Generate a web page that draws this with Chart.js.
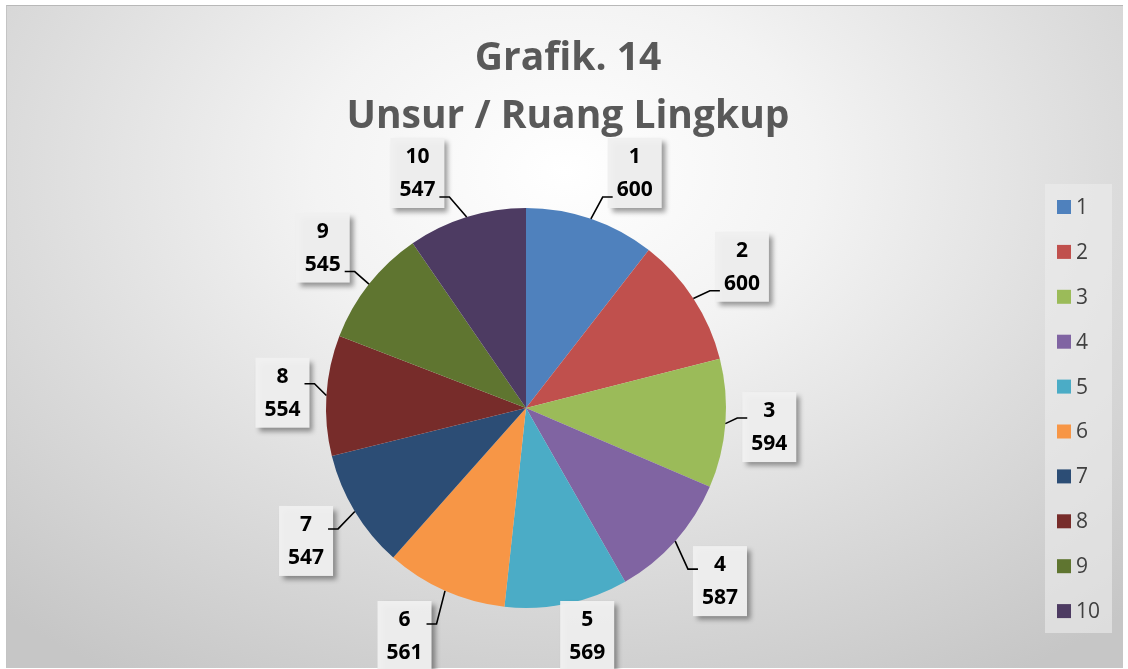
<!DOCTYPE html>
<html>
<head>
<meta charset="utf-8">
<script src="https://cdn.jsdelivr.net/npm/chart.js@4"></script>
<style>
  html, body { margin: 0; padding: 0; background: #fff; }
  #frame {
    position: absolute; left: 6px; top: 5px; width: 1116px; height: 662px;
    border-top: 1px solid #b8b8b8; border-left: 1px solid #c4c4c4;
    background: radial-gradient(ellipse 75% 90% at 50% 25%, #ffffff 0%, #f3f3f3 30%, #dcdcdc 65%, #c6c6c6 100%);
  }
  #c { position: absolute; left: 0; top: 0; }
</style>
</head>
<body>
<div id="frame"></div>
<canvas id="c" width="1128" height="669"></canvas>
<script>
// data
var titleLines = ['Grafik. 14', 'Unsur / Ruang Lingkup'];
var categories = ['1', '2', '3', '4', '5', '6', '7', '8', '9', '10'];
var values = [600, 600, 594, 587, 569, 561, 547, 554, 545, 547];
var colors = ['#4F81BD', '#C0504D', '#9BBB59', '#8064A2', '#4BACC6',
              '#F79646', '#2C4D75', '#772C2A', '#5F7530', '#4D3B62'];

var FONT = '"Open Sans", "Liberation Sans", sans-serif';

// title, labels with boxes + leader lines, and the legend on the right
var labelPlugin = {
  id: 'pieLabels',
  afterDraw: function (chart) {
    var ctx = chart.ctx;
    var meta = chart.getDatasetMeta(0);
    ctx.save();

    // title (centred on the whole picture, not on the pie)
    ctx.fillStyle = '#595959';
    ctx.font = 'bold 39px ' + FONT;
    ctx.textAlign = 'center';
    ctx.textBaseline = 'alphabetic';
    titleLines.forEach(function (t, i) {
      ctx.fillText(t, 568, 70 + i * 58);
    });

    ctx.font = 'bold 21px ' + FONT;
    meta.data.forEach(function (arc, i) {
      var p = arc.getProps(['x', 'y', 'startAngle', 'endAngle', 'outerRadius'], true);
      var mid = (p.startAngle + p.endAngle) / 2;
      var cos = Math.cos(mid), sin = Math.sin(mid);
      var l1 = chart.data.labels[i], l2 = String(chart.data.datasets[0].data[i]);
      var w = Math.max(ctx.measureText(l1).width, ctx.measureText(l2).width) + 18;
      var h = 70;
      var minCy = 138 + h / 2;          // keep clear of the title
      var maxCy = chart.height - 33;
      var maxD = sin > 0.5 ? 300 : 400;

      // push the box out along the slice direction until it clears the pie
      var d, cx, cy, bx, by, gap;
      for (d = p.outerRadius; d <= maxD; d++) {
        cx = p.x + cos * d;
        cy = Math.max(minCy, Math.min(p.y + sin * d, maxCy));
        bx = cx - w / 2; by = cy - h / 2;
        var nx = Math.max(bx, Math.min(p.x, bx + w));
        var ny = Math.max(by, Math.min(p.y, by + h));
        gap = Math.hypot(nx - p.x, ny - p.y) - p.outerRadius;
        if (gap >= 16) break;
      }

      // box with a soft shadow
      ctx.save();
      ctx.shadowColor = 'rgba(0,0,0,0.4)';
      ctx.shadowBlur = 5;
      ctx.shadowOffsetX = 4;
      ctx.shadowOffsetY = 4;
      ctx.fillStyle = 'rgba(240,240,240,0.97)';
      ctx.fillRect(bx, by, w, h);
      ctx.restore();

      // leader line (skip when the box sits on the pie edge)
      if (gap > 8) {
        var sx = p.x + cos * p.outerRadius, sy = p.y + sin * p.outerRadius;
        var side = cos >= 0 ? -1 : 1;
        var edge = cx + side * w / 2;
        var ay = sin < -0.3 ? cy + 24 : (sin > 0.3 ? cy - 12 : cy - 9);
        ctx.strokeStyle = '#000';
        ctx.lineWidth = 1.6;
        ctx.beginPath();
        ctx.moveTo(sx, sy);
        ctx.lineTo(edge + side * 5, ay);
        ctx.lineTo(edge - side * 5, ay);
        ctx.stroke();
      }

      ctx.fillStyle = '#000';
      ctx.textAlign = 'center';
      ctx.textBaseline = 'middle';
      ctx.fillText(l1, cx, cy - 16);
      ctx.fillText(l2, cx, cy + 17);
    });

    // legend
    ctx.fillStyle = 'rgba(236,236,236,0.6)';
    ctx.fillRect(1045, 184, 67, 449);
    ctx.font = '21px ' + FONT;
    ctx.textAlign = 'left';
    ctx.textBaseline = 'middle';
    chart.data.labels.forEach(function (lab, i) {
      var y = 207 + i * 44.9;
      ctx.fillStyle = chart.data.datasets[0].backgroundColor[i];
      ctx.fillRect(1057, y - 7, 14, 14);
      ctx.fillStyle = '#404040';
      ctx.fillText(lab, 1076, y + 1);
    });
    ctx.restore();
  }
};

new Chart(document.getElementById('c'), {
  type: 'pie',
  data: {
    labels: categories,
    datasets: [{
      data: values,
      backgroundColor: colors,
      borderWidth: 0
    }]
  },
  options: {
    responsive: false,
    animation: false,
    radius: 200,
    layout: { padding: { left: 0, right: 76, top: 147, bottom: 0 } },
    plugins: {
      legend: { display: false },
      tooltip: { enabled: false },
      title: { display: false }
    }
  },
  plugins: [labelPlugin]
});
</script>
</body>
</html>
